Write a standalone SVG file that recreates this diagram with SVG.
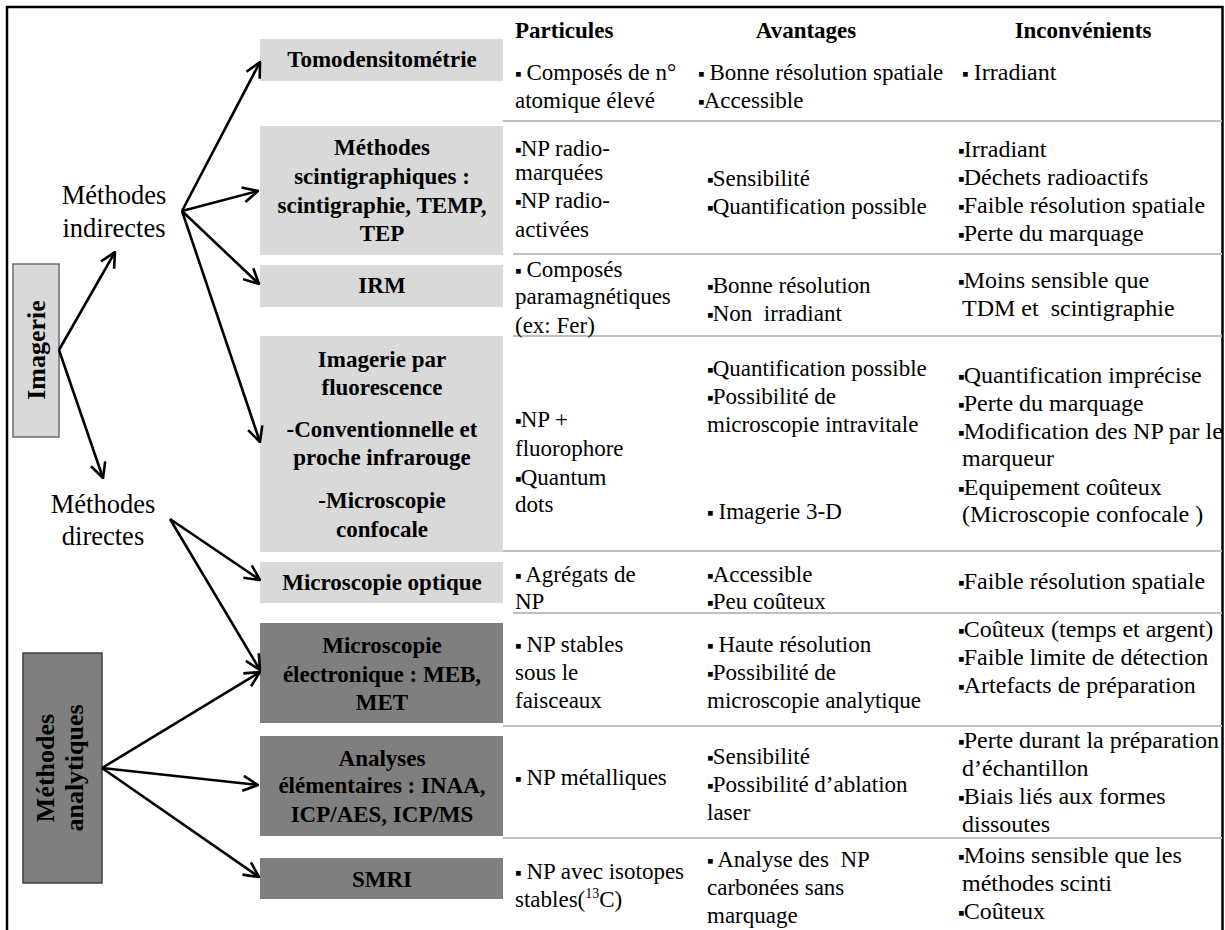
<svg xmlns="http://www.w3.org/2000/svg" width="1225" height="930" viewBox="0 0 1225 930">
<defs>
<style>
.bl{fill:#d9d9d9}
.bd{fill:#7f7f7f}
.bt{font-family:"Liberation Serif","Times New Roman",serif;font-weight:bold;font-size:23px;text-anchor:middle;fill:#000}
.hd{font-family:"Liberation Serif","Times New Roman",serif;font-weight:bold;font-size:23px;fill:#000}
.t{font-family:"Liberation Serif","Times New Roman",serif;font-size:23px;fill:#000}
.t3{font-family:"Liberation Serif","Times New Roman",serif;font-size:24px;fill:#000}
.lbl{font-family:"Liberation Serif","Times New Roman",serif;font-size:26.5px;text-anchor:middle;fill:#000}
.rot{font-family:"Liberation Serif","Times New Roman",serif;font-weight:bold;font-size:26px;text-anchor:middle;fill:#000}
.b{font-size:19px;letter-spacing:-1px}
.sep line{stroke:#bfbfbf;stroke-width:2}
.conn line{stroke:#000;stroke-width:2.6;marker-end:url(#arr)}
</style>
<marker id="arr" viewBox="0 0 18 18" refX="17" refY="9" markerWidth="18" markerHeight="18" markerUnits="userSpaceOnUse" orient="auto">
<path d="M2,1.5 L17,9 L2,16.5" fill="none" stroke="#000" stroke-width="2.6"/>
</marker>
<clipPath id="clipR"><rect x="0" y="0" width="1222" height="930"/></clipPath>
</defs>
<rect x="0" y="0" width="1225" height="930" fill="#fff"/>
<path d="M7,935 V7 H1222.5 V935" fill="none" stroke="#000" stroke-width="2.5"/>

<g id="imagerie">
<rect x="13" y="264" width="46" height="173" class="bl" stroke="#6d6d6d" stroke-width="1.5"/>
<text class="rot" transform="translate(36,350) rotate(-90)" x="0" y="9">Imagerie</text>
</g>
<g id="methodes-analytiques">
<rect x="23" y="653" width="79" height="230" class="bd" stroke="#404040" stroke-width="1.5"/>
<text class="rot" transform="translate(62,768) rotate(-90)" x="0" y="-8">Méthodes</text>
<text class="rot" transform="translate(62,768) rotate(-90)" x="0" y="21">analytiques</text>
</g>
<g id="methodes-indirectes">
<text class="lbl" x="114" y="204">Méthodes</text>
<text class="lbl" x="114" y="237">indirectes</text>
</g>
<g id="methodes-directes">
<text class="lbl" x="103" y="513">Méthodes</text>
<text class="lbl" x="103" y="545">directes</text>
</g>

<g id="tomodensitometrie">
<rect x="260" y="39" width="243" height="42" class="bl"/>
<text class="bt" x="382" y="67">Tomodensitométrie</text>
</g>
<g id="scintigraphie">
<rect x="260" y="126" width="243" height="129" class="bl"/>
<text class="bt" x="382" y="155">Méthodes</text>
<text class="bt" x="382" y="184">scintigraphiques :</text>
<text class="bt" x="382" y="213">scintigraphie, TEMP,</text>
<text class="bt" x="382" y="241">TEP</text>
</g>
<g id="irm">
<rect x="260" y="265" width="243" height="42" class="bl"/>
<text class="bt" x="382" y="293">IRM</text>
</g>
<g id="fluorescence">
<rect x="260" y="336" width="243" height="216" class="bl"/>
<text class="bt" x="382" y="367">Imagerie par</text>
<text class="bt" x="382" y="395">fluorescence</text>
<text class="bt" x="382" y="437">-Conventionnelle et</text>
<text class="bt" x="382" y="465">proche infrarouge</text>
<text class="bt" x="382" y="508">-Microscopie</text>
<text class="bt" x="382" y="537">confocale</text>
</g>
<g id="microscopie-optique">
<rect x="260" y="562" width="243" height="41" class="bl"/>
<text class="bt" x="382" y="590">Microscopie optique</text>
</g>
<g id="microscopie-electronique">
<rect x="260" y="623" width="243" height="100" class="bd"/>
<text class="bt" x="382" y="653">Microscopie</text>
<text class="bt" x="382" y="682">électronique : MEB,</text>
<text class="bt" x="382" y="710">MET</text>
</g>
<g id="analyses-elementaires">
<rect x="260" y="736" width="243" height="100" class="bd"/>
<text class="bt" x="382" y="766">Analyses</text>
<text class="bt" x="382" y="793">élémentaires : INAA,</text>
<text class="bt" x="382" y="822">ICP/AES, ICP/MS</text>
</g>
<g id="smri">
<rect x="260" y="858" width="243" height="41" class="bd"/>
<text class="bt" x="382" y="887">SMRI</text>
</g>

<g id="connectors" class="conn">
<line x1="59" y1="350" x2="115" y2="252"/>
<line x1="59" y1="350" x2="103" y2="478"/>
<line x1="182" y1="211" x2="260" y2="62"/>
<line x1="182" y1="211" x2="258" y2="191"/>
<line x1="182" y1="211" x2="259" y2="284"/>
<line x1="182" y1="211" x2="260" y2="442"/>
<line x1="170" y1="519" x2="260" y2="580"/>
<line x1="170" y1="519" x2="260" y2="670"/>
<line x1="102" y1="768" x2="260" y2="672"/>
<line x1="102" y1="768" x2="258" y2="785"/>
<line x1="102" y1="768" x2="259" y2="877"/>
</g>

<g id="separators" class="sep">
<line x1="503" y1="121" x2="1222" y2="121"/>
<line x1="513" y1="254" x2="1222" y2="254"/>
<line x1="513" y1="336" x2="1222" y2="336"/>
<line x1="503" y1="551" x2="1222" y2="551"/>
<line x1="513" y1="613" x2="1222" y2="613"/>
<line x1="503" y1="726" x2="1222" y2="726"/>
<line x1="503" y1="838" x2="1222" y2="838"/>
</g>

<g id="table" clip-path="url(#clipR)">
<g id="headers">
<text class="hd" x="515" y="38">Particules</text>
<text class="hd" x="806" y="38" text-anchor="middle">Avantages</text>
<text class="hd" x="1083" y="38" text-anchor="middle">Inconvénients</text>
</g>
<g id="row-tomo">
<text class="t" x="515" y="80"><tspan class="b">▪</tspan> Composés de n°</text>
<text class="t" x="515" y="108">atomique élevé</text>
<text class="t" x="698" y="80"><tspan class="b">▪</tspan> Bonne résolution spatiale</text>
<text class="t" x="698" y="108"><tspan class="b">▪</tspan>Accessible</text>
<text class="t3" x="962" y="80"><tspan class="b">▪</tspan> Irradiant</text>
</g>
<g id="row-scinti">
<text class="t" x="515" y="156"><tspan class="b">▪</tspan>NP radio-</text>
<text class="t" x="515" y="180">marquées</text>
<text class="t" x="515" y="208"><tspan class="b">▪</tspan>NP radio-</text>
<text class="t" x="515" y="237">activées</text>
<text class="t" x="707" y="186"><tspan class="b">▪</tspan>Sensibilité</text>
<text class="t" x="707" y="214"><tspan class="b">▪</tspan>Quantification possible</text>
<text class="t3" x="958" y="157"><tspan class="b">▪</tspan>Irradiant</text>
<text class="t3" x="958" y="185"><tspan class="b">▪</tspan>Déchets radioactifs</text>
<text class="t3" x="958" y="213"><tspan class="b">▪</tspan>Faible résolution spatiale</text>
<text class="t3" x="958" y="241"><tspan class="b">▪</tspan>Perte du marquage</text>
</g>
<g id="row-irm">
<text class="t" x="515" y="277"><tspan class="b">▪</tspan> Composés</text>
<text class="t" x="515" y="304">paramagnétiques</text>
<text class="t" x="515" y="333">(ex: Fer)</text>
<text class="t" x="707" y="293"><tspan class="b">▪</tspan>Bonne résolution</text>
<text class="t" x="707" y="321" xml:space="preserve"><tspan class="b">▪</tspan>Non  irradiant</text>
<text class="t3" x="958" y="288"><tspan class="b">▪</tspan>Moins sensible que</text>
<text class="t3" x="962" y="316" xml:space="preserve">TDM et  scintigraphie</text>
</g>
<g id="row-fluo">
<text class="t" x="515" y="427"><tspan class="b">▪</tspan>NP +</text>
<text class="t" x="515" y="456">fluorophore</text>
<text class="t" x="515" y="485"><tspan class="b">▪</tspan>Quantum</text>
<text class="t" x="515" y="512">dots</text>
<text class="t" x="707" y="376"><tspan class="b">▪</tspan>Quantification possible</text>
<text class="t" x="707" y="404"><tspan class="b">▪</tspan>Possibilité de</text>
<text class="t" x="707" y="432">microscopie intravitale</text>
<text class="t" x="707" y="519"><tspan class="b">▪</tspan> Imagerie 3-D</text>
<text class="t3" x="958" y="383"><tspan class="b">▪</tspan>Quantification imprécise</text>
<text class="t3" x="958" y="411"><tspan class="b">▪</tspan>Perte du marquage</text>
<text class="t3" x="958" y="439"><tspan class="b">▪</tspan>Modification des NP par le</text>
<text class="t3" x="962" y="466">marqueur</text>
<text class="t3" x="958" y="495"><tspan class="b">▪</tspan>Equipement coûteux</text>
<text class="t3" x="962" y="522">(Microscopie confocale )</text>
</g>
<g id="row-optique">
<text class="t" x="515" y="582"><tspan class="b">▪</tspan> Agrégats de</text>
<text class="t" x="515" y="609">NP</text>
<text class="t" x="707" y="582"><tspan class="b">▪</tspan>Accessible</text>
<text class="t" x="707" y="609"><tspan class="b">▪</tspan>Peu coûteux</text>
<text class="t3" x="958" y="589"><tspan class="b">▪</tspan>Faible résolution spatiale</text>
</g>
<g id="row-meb">
<text class="t" x="515" y="652"><tspan class="b">▪</tspan> NP stables</text>
<text class="t" x="515" y="680">sous le</text>
<text class="t" x="515" y="708">faisceaux</text>
<text class="t" x="707" y="652"><tspan class="b">▪</tspan> Haute résolution</text>
<text class="t" x="707" y="680"><tspan class="b">▪</tspan>Possibilité de</text>
<text class="t" x="707" y="708">microscopie analytique</text>
<text class="t3" x="958" y="637"><tspan class="b">▪</tspan>Coûteux (temps et argent)</text>
<text class="t3" x="958" y="665"><tspan class="b">▪</tspan>Faible limite de détection</text>
<text class="t3" x="958" y="693"><tspan class="b">▪</tspan>Artefacts de préparation</text>
</g>
<g id="row-analyses">
<text class="t" x="515" y="785"><tspan class="b">▪</tspan> NP métalliques</text>
<text class="t" x="707" y="764"><tspan class="b">▪</tspan>Sensibilité</text>
<text class="t" x="707" y="792"><tspan class="b">▪</tspan>Possibilité d’ablation</text>
<text class="t" x="707" y="820">laser</text>
<text class="t3" x="958" y="748"><tspan class="b">▪</tspan>Perte durant la préparation</text>
<text class="t3" x="962" y="776">d’échantillon</text>
<text class="t3" x="958" y="804"><tspan class="b">▪</tspan>Biais liés aux formes</text>
<text class="t3" x="962" y="832">dissoutes</text>
</g>
<g id="row-smri">
<text class="t" x="515" y="879"><tspan class="b">▪</tspan> NP avec isotopes</text>
<text class="t" x="515" y="907">stables(<tspan font-size="14" dy="-9">13</tspan><tspan dy="9">C)</tspan></text>
<text class="t" x="707" y="867" xml:space="preserve"><tspan class="b">▪</tspan> Analyse des  NP</text>
<text class="t" x="707" y="895">carbonées sans</text>
<text class="t" x="707" y="923">marquage</text>
<text class="t3" x="958" y="863"><tspan class="b">▪</tspan>Moins sensible que les</text>
<text class="t3" x="962" y="891">méthodes scinti</text>
<text class="t3" x="958" y="919"><tspan class="b">▪</tspan>Coûteux</text>
</g>
</g>
</svg>
